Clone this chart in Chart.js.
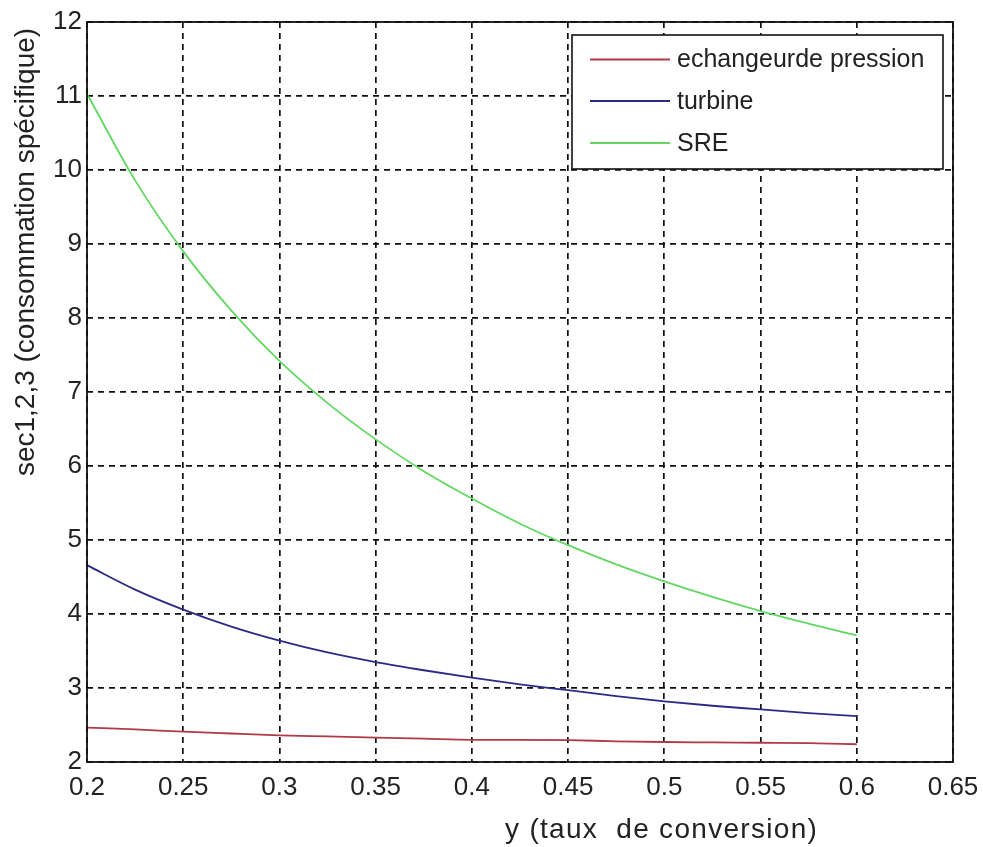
<!DOCTYPE html>
<html>
<head>
<meta charset="utf-8">
<script src="https://cdn.jsdelivr.net/npm/chart.js@4/dist/chart.umd.min.js"></script>
<style>
  html, body { margin: 0; padding: 0; background: #ffffff; }
  #wrap { width: 983px; height: 847px; position: relative; }
</style>
</head>
<body>
<div id="wrap"><canvas id="c" width="983" height="847"></canvas></div>
<script>
// ---- data ----
const conversionRates = [0.2, 0.225, 0.25, 0.275, 0.3, 0.325, 0.35, 0.375, 0.4, 0.425, 0.45, 0.475, 0.5, 0.525, 0.55, 0.575, 0.6];
const echangeurValues = [2.465, 2.44, 2.41, 2.385, 2.36, 2.345, 2.33, 2.315, 2.30, 2.30, 2.295, 2.28, 2.27, 2.265, 2.26, 2.255, 2.24];
const turbineValues   = [4.66, 4.33, 4.06, 3.83, 3.64, 3.48, 3.35, 3.24, 3.14, 3.05, 2.97, 2.89, 2.82, 2.76, 2.71, 2.66, 2.62];
const sreValues       = [11.03, 9.86, 8.90, 8.10, 7.42, 6.85, 6.36, 5.93, 5.56, 5.22, 4.93, 4.67, 4.44, 4.23, 4.04, 3.87, 3.71];
const seriesLabels = ["echangeurde pression", "turbine", "SRE"];
const xTickLabels = ["0.2", "0.25", "0.3", "0.35", "0.4", "0.45", "0.5", "0.55", "0.6", "0.65"];
const yTickLabels = ["2", "3", "4", "5", "6", "7", "8", "9", "10", "11", "12"];
const xAxisTitle = "y (taux  de conversion)";
const yAxisTitle = "sec1,2,3 (consommation spécifique)";

const FONT = "'Liberation Sans', Arial, sans-serif";
const TXT = "#222222";

function pts(values) {
  return conversionRates.map((x, i) => ({ x: x, y: values[i] }));
}

const colors = ["#b03a48", "#2b2b86", "#62d862"];

const framePlugin = {
  id: "frame",
  afterDraw(chart) {
    const { ctx, chartArea: a } = chart;
    ctx.save();
    // box
    ctx.strokeStyle = "#111";
    ctx.lineWidth = 1.8;
    ctx.setLineDash([]);
    ctx.strokeRect(a.left, a.top, a.right - a.left, a.bottom - a.top);

    // legend
    const lx = 572, ly = 35, lw = 371, lh = 134;
    ctx.fillStyle = "#fff";
    ctx.fillRect(lx, ly, lw, lh);
    ctx.strokeStyle = "#111";
    ctx.lineWidth = 1.6;
    ctx.strokeRect(lx, ly, lw, lh);
    const rows = [59.5, 101, 143];
    ctx.font = "25px " + FONT;
    ctx.textBaseline = "middle";
    ctx.textAlign = "left";
    chart.data.datasets.forEach((ds, i) => {
      ctx.strokeStyle = ds.borderColor;
      ctx.lineWidth = 1.8;
      ctx.beginPath();
      ctx.moveTo(590, rows[i]);
      ctx.lineTo(670, rows[i]);
      ctx.stroke();
      ctx.fillStyle = TXT;
      ctx.fillText(ds.label, 677, rows[i] + 1);
    });

    // axis titles
    ctx.fillStyle = TXT;
    ctx.font = "28px " + FONT;
    ctx.textAlign = "left";
    ctx.textBaseline = "alphabetic";
    try { ctx.letterSpacing = "1.3px"; } catch (e) {}
    ctx.fillText(xAxisTitle, 505, 838);
    try { ctx.letterSpacing = "0px"; } catch (e) {}

    ctx.translate(34, 252);
    ctx.rotate(-Math.PI / 2);
    ctx.textAlign = "center";
    ctx.fillText(yAxisTitle, 0, 0);
    ctx.restore();
  }
};

new Chart(document.getElementById("c"), {
  type: "line",
  data: {
    datasets: [
      { label: seriesLabels[0], data: pts(echangeurValues), borderColor: colors[0] },
      { label: seriesLabels[1], data: pts(turbineValues), borderColor: colors[1] },
      { label: seriesLabels[2], data: pts(sreValues), borderColor: colors[2] }
    ].map(d => Object.assign(d, { borderWidth: 1.8, pointRadius: 0, fill: false, cubicInterpolationMode: "monotone" }))
  },
  options: {
    responsive: false,
    animation: false,
    layout: { padding: { left: 0, top: 22, right: 30, bottom: 0 } },
    plugins: { legend: { display: false }, tooltip: { enabled: false } },
    scales: {
      x: {
        type: "linear",
        min: 0.2, max: 0.65,
        afterFit(s) { s.height = 85; s.paddingRight = 0; s.paddingLeft = 0; },
        afterBuildTicks(s) { s.ticks = xTickLabels.map(t => ({ value: parseFloat(t) })); },
        ticks: {
          callback: (v, i) => xTickLabels[i],
          font: { family: FONT, size: 26 }, color: TXT, padding: 10, maxRotation: 0, autoSkip: false
        },
        grid: { color: "#111", lineWidth: 1.7, drawTicks: false },
        border: { display: false, dash: [6, 5] }
      },
      y: {
        min: 2, max: 12,
        afterFit(s) { s.width = 87; s.paddingTop = 0; s.paddingBottom = 0; },
        afterBuildTicks(s) { s.ticks = yTickLabels.map(t => ({ value: parseFloat(t) })); },
        ticks: {
          callback: (v, i) => yTickLabels[i],
          font: { family: FONT, size: 26 }, color: TXT, padding: 5, autoSkip: false
        },
        grid: { color: "#111", lineWidth: 1.7, drawTicks: false },
        border: { display: false, dash: [6, 5] }
      }
    }
  },
  plugins: [framePlugin]
});
</script>
</body>
</html>
